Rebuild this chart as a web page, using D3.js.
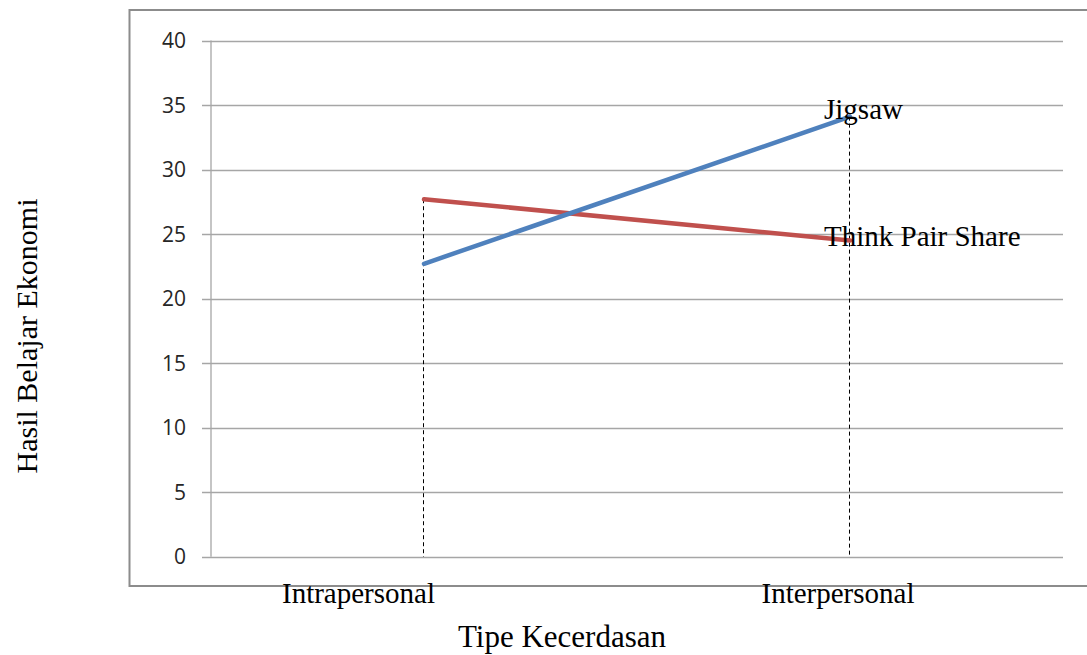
<!DOCTYPE html>
<html><head><meta charset="utf-8">
<script src="https://cdn.jsdelivr.net/npm/d3@7"></script>
<style>body{margin:0;background:#fff}svg{display:block}</style>
</head><body><svg id="c" width="1087" height="655"></svg>
<script>
const categories = ["Intrapersonal", "Interpersonal"];
const jigsaw = [22.7, 34.1];
const tps = [27.7, 24.5];
const yTicks = [0, 5, 10, 15, 20, 25, 30, 35, 40];
const seriesNames = ["Jigsaw", "Think Pair Share"];

const svg = d3.select("#c");
const x = d3.scalePoint().domain(categories).range([211, 1063]).padding(0.5);
const y = d3.scaleLinear().domain([0, 40]).range([556.7, 40.5]);

// outer frame
svg.append("rect").attr("x", 129.5).attr("y", 10).attr("width", 1000).attr("height", 576)
  .attr("fill", "none").attr("stroke", "#8c8c8c").attr("stroke-width", 2);

// gridlines
svg.append("g").selectAll("line").data(yTicks).join("line")
  .attr("x1", 202).attr("x2", 1063).attr("y1", d => Math.round(y(d)) + 0.5).attr("y2", d => Math.round(y(d)) + 0.5)
  .attr("stroke", "#a6a6a6").attr("stroke-width", 1.3);
// y axis line
svg.append("line").attr("x1", 211).attr("x2", 211).attr("y1", y(40)).attr("y2", y(0))
  .attr("stroke", "#a6a6a6").attr("stroke-width", 1.3);

// y tick labels
svg.append("g").selectAll("text").data(yTicks).join("text")
  .attr("x", 186).attr("y", d => y(d)).attr("dy", "0.36em").attr("text-anchor", "end")
  .attr("font-family", "'Open Sans', 'DejaVu Sans', sans-serif").attr("font-size", 21).attr("fill", "#262626")
  .text(d => d);

// dashed drop lines
const dropVals = categories.map((c, i) => Math.max(jigsaw[i], tps[i]));
svg.append("g").selectAll("line").data(categories).join("line")
  .attr("x1", d => Math.round(x(d)) - 0.5).attr("x2", d => Math.round(x(d)) - 0.5)
  .attr("y1", (d, i) => y(dropVals[i])).attr("y2", y(0))
  .attr("stroke", "#000").attr("stroke-width", 1).attr("stroke-dasharray", "4,3");

const line = d3.line().x((d, i) => x(categories[i])).y(d => y(d));
svg.append("path").datum(tps).attr("d", line).attr("fill", "none")
  .attr("stroke", "#c0504d").attr("stroke-width", 4.5).attr("stroke-linecap", "round");
svg.append("path").datum(jigsaw).attr("d", line).attr("fill", "none")
  .attr("stroke", "#4f81bd").attr("stroke-width", 4.5).attr("stroke-linecap", "round");

const serif = "'Liberation Serif', 'Times New Roman', serif";
// series labels
svg.append("text").attr("x", 824).attr("y", 119).attr("font-family", serif).attr("font-size", 29).text(seriesNames[0]);
svg.append("text").attr("x", 824).attr("y", 246).attr("font-family", serif).attr("font-size", 29).text(seriesNames[1]);

// category labels
const catOffset = [-65.5, -12];
svg.append("g").selectAll("text").data(categories).join("text")
  .attr("x", (d, i) => x(d) + catOffset[i]).attr("y", 603).attr("text-anchor", "middle")
  .attr("font-family", serif).attr("font-size", 29).text(d => d);

// axis titles
svg.append("text").attr("x", 562).attr("y", 647).attr("text-anchor", "middle")
  .attr("font-family", serif).attr("font-size", 31).text("Tipe Kecerdasan");
svg.append("text").attr("transform", "translate(37,336) rotate(-90)").attr("text-anchor", "middle")
  .attr("font-family", serif).attr("font-size", 30).text("Hasil Belajar Ekonomi");
</script></body></html>
